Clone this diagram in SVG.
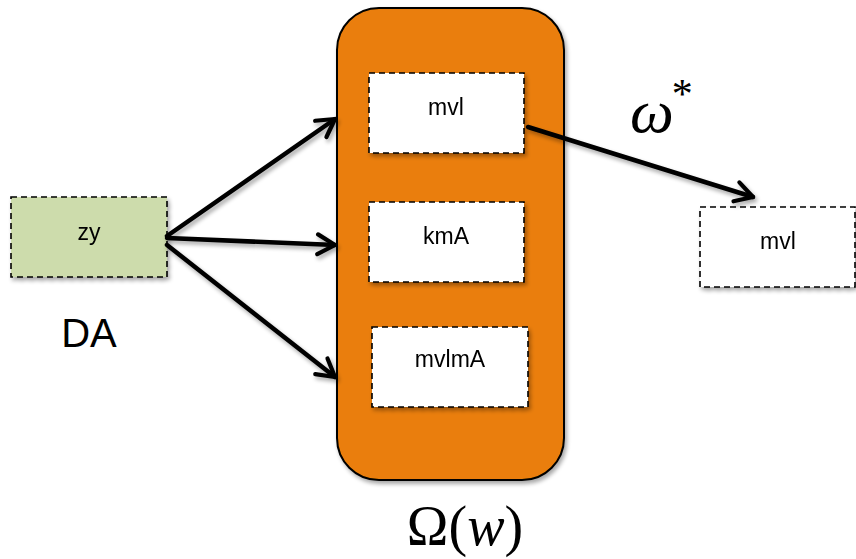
<svg xmlns="http://www.w3.org/2000/svg" width="856" height="559" viewBox="0 0 856 559">
  <style>
    .box { stroke: #000; stroke-width: 1.6; stroke-dasharray: 6 4; }
    .lbl { font-family: "Liberation Sans", Arial, sans-serif; font-size: 23px; fill: #000; text-anchor: middle; }
    .edge { stroke: #000; stroke-width: 4.5; fill: none; stroke-linecap: round; }
    .math { font-family: "Liberation Serif", "DejaVu Serif", serif; fill: #000; }
  </style>
  <defs>
    <filter id="shadow" x="-10%" y="-10%" width="130%" height="130%">
      <feGaussianBlur in="SourceAlpha" stdDeviation="2"/>
      <feOffset dx="2" dy="3" result="b"/>
      <feComponentTransfer><feFuncA type="linear" slope="0.35"/></feComponentTransfer>
      <feMerge><feMergeNode/><feMergeNode in="SourceGraphic"/></feMerge>
    </filter>
    <marker id="arrow" viewBox="0 0 20 20" refX="17" refY="10" markerWidth="5.5" markerHeight="5.5" markerUnits="strokeWidth" orient="auto">
      <path d="M3,2 L17,10 L3,18" fill="none" stroke="#000" stroke-width="3.4" stroke-linecap="round" stroke-linejoin="round"/>
    </marker>
  </defs>

  <!-- container -->
  <g id="omega-set" filter="url(#shadow)">
    <rect x="337" y="8" width="227" height="472" rx="42" ry="42" fill="#EA7E08" stroke="#000" stroke-width="2"/>
  </g>

  <g id="input" filter="url(#shadow)">
    <rect class="box" x="11" y="197" width="156" height="80" fill="#CDDCAC"/>
    <text class="lbl" x="89" y="240">zy</text>
  </g>

  <g id="m1" filter="url(#shadow)">
    <rect class="box" x="369" y="73" width="155" height="80" fill="#fff"/>
    <text class="lbl" x="446" y="115">mvl</text>
  </g>

  <g id="m2" filter="url(#shadow)">
    <rect class="box" x="369" y="202" width="155" height="80" fill="#fff"/>
    <text class="lbl" x="446" y="244">kmA</text>
  </g>

  <g id="m3" filter="url(#shadow)">
    <rect class="box" x="372" y="327" width="156" height="80" fill="#fff"/>
    <text class="lbl" x="450" y="367">mvlmA</text>
  </g>

  <g id="output" filter="url(#shadow)">
    <rect class="box" x="700" y="207" width="155" height="80" fill="#fff"/>
    <text class="lbl" x="778" y="249">mvl</text>
  </g>

  <!-- connectors -->
  <g id="connectors" filter="url(#shadow)">
    <line class="edge" x1="167" y1="236" x2="335" y2="119" marker-end="url(#arrow)"/>
    <line class="edge" x1="167" y1="238" x2="335" y2="245" marker-end="url(#arrow)"/>
    <line class="edge" x1="167" y1="245" x2="335" y2="377" marker-end="url(#arrow)"/>
    <line class="edge" x1="528" y1="127" x2="753" y2="197" marker-end="url(#arrow)"/>
  </g>

  <!-- labels -->
  <text id="da" x="89" y="347" font-family="'Liberation Sans', Arial, sans-serif" font-size="40" text-anchor="middle">DA</text>
  <text id="wstar" class="math" x="630" y="132" font-size="62" font-style="italic">ω<tspan font-style="normal" font-size="42" dy="-24" dx="-2">*</tspan></text>
  <text id="omega-label" class="math" x="465" y="545" font-size="56" text-anchor="middle">Ω(<tspan font-style="italic">w</tspan>)</text>
</svg>
